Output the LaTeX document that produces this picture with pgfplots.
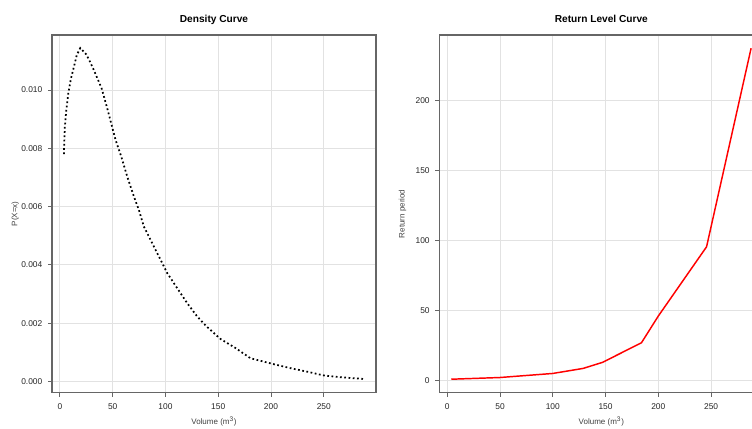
\documentclass[border=0pt]{standalone}
\usepackage{pgfplots}
\pgfplotsset{compat=1.18}
\usepackage{fontspec}
\setmainfont{Liberation Sans}
\definecolor{gridc}{HTML}{E2E2E2}
\definecolor{boxc}{HTML}{666666}
\definecolor{labc}{HTML}{404040}
\pgfplotstableread{
x y
3.8 0.0078
4.6 0.0087
6 0.0093
8 0.0099
10.5 0.0104
13.3 0.0108
16 0.0112
19.3 0.01144
25 0.01122
28.4 0.01098
32.2 0.01068
39.5 0.01006
45 0.00935
52.7 0.00829
58.1 0.00772
63.8 0.00703
70.1 0.00635
74.8 0.00589
79.5 0.00532
85.9 0.00486
90.6 0.00452
97 0.00406
101.7 0.00372
111.2 0.0032
120.6 0.00269
130.1 0.00223
139 0.00189
152.2 0.00146
166.4 0.00115
180.6 0.0008
201.1 0.00061
218.5 0.00046
234.3 0.00034
250 0.00021
265.8 0.00015
287.9 0.00009
}\density
\pgfplotstableread{
x y
3.8 0.9
49.6 2.1
99.9 5.0
128.7 8.6
147 12.9
184 26.9
200 46.0
245.7 95.4
287.9 237.1
}\retlev
\pgfplotsset{
  rstyle/.style={
    scale only axis,
    width=243pt, height=268.3pt,
    xmin=-7.5, xmax=299.5,
    xtick={0,50,...,250},
    tick pos=left,
    tick align=outside,
    major tick length=3pt,
    grid=major,
    major grid style={gridc, line width=0.7pt},
    axis line style={boxc, line width=1.1pt},
    every tick/.style={boxc, line width=0.7pt},
    /pgf/number format/assume math mode=true,
    tick label style={font=\fontsize{6.3}{7}\selectfont, text=black!85},
    title style={font=\fontsize{7.6}{9}\bfseries, at={(axis description cs:0.5,1)}, anchor=base, yshift=3.5pt},
    xlabel={Volume (m\textsuperscript{3})},
    label style={font=\fontsize{6}{7}\selectfont, text=labc},
    x label style={at={(axis description cs:0.5,0)}, anchor=center, yshift=-21.8pt},
    y label style={at={(axis description cs:0,0.5)}, anchor=center, yshift=27.5pt},
    xticklabel style={anchor=center, yshift=-7.5pt},
    yticklabel style={anchor=east, xshift=-0.75pt},
  }
}
\begin{document}
\begin{tikzpicture}
\begin{axis}[rstyle,
  at={(39pt,26.5pt)}, anchor=south west,
  title={Density Curve},
  ymin=-0.00038, ymax=0.01189,
  ytick={0,0.002,...,0.0101},
  scaled y ticks=false,
  yticklabel style={/pgf/number format/.cd, fixed, fixed zerofill, precision=3},
  ylabel={P(X=x)},
]
\addplot[black, line width=1.3pt, dash pattern=on 1.3pt off 1.9pt] table {\density};
\end{axis}
\begin{axis}[rstyle,
  at={(329.5pt,26.5pt)}, anchor=south west,
  title={Return Level Curve},
  ymin=-8.7, ymax=246.6,
  ytick={0,50,...,200},
  ylabel={Return period},
]
\addplot[red, line width=1.1pt] table {\retlev};
\end{axis}
\pgfresetboundingbox
\useasboundingbox (0,0) rectangle (564pt,321pt);
\end{tikzpicture}
\end{document}
